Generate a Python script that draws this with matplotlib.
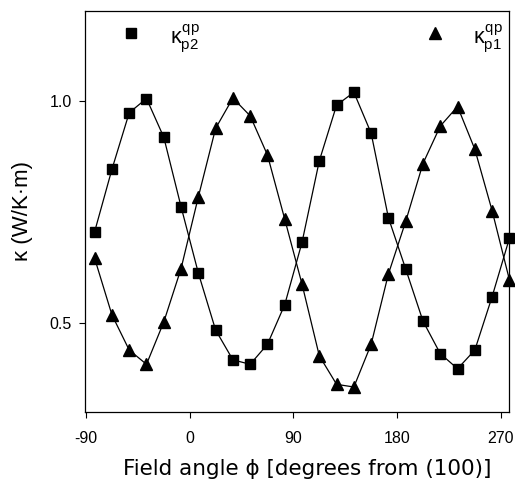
import matplotlib
matplotlib.use("Agg")
import matplotlib.pyplot as plt

plt.rcParams['font.family'] = ['Liberation Sans', 'DejaVu Sans']
plt.rcParams['mathtext.fontset'] = 'custom'
plt.rcParams['mathtext.rm'] = 'Liberation Sans'
plt.rcParams['mathtext.it'] = 'Liberation Sans'

# field angle (degrees from (100))
angle = [-82.5, -67.5, -52.5, -37.5, -22.5, -7.5, 7.5, 22.5, 37.5, 52.5,
         67.5, 82.5, 97.5, 112.5, 127.5, 142.5, 157.5, 172.5, 187.5, 202.5,
         217.5, 232.5, 247.5, 262.5, 277.5]

# kappa_p2 (squares)
kappa_p2 = [0.706, 0.846, 0.973, 1.005, 0.918, 0.762, 0.613, 0.485, 0.418, 0.408,
            0.453, 0.542, 0.682, 0.865, 0.990, 1.019, 0.927, 0.737, 0.622, 0.505,
            0.432, 0.398, 0.440, 0.560, 0.691]

# kappa_p1 (triangles)
kappa_p1 = [0.646, 0.519, 0.440, 0.408, 0.503, 0.623, 0.784, 0.938, 1.006, 0.966,
            0.878, 0.734, 0.588, 0.427, 0.363, 0.357, 0.453, 0.611, 0.729, 0.859,
            0.943, 0.987, 0.891, 0.753, 0.598]

xticks = [-90, 0, 90, 180, 270]
yticks = [0.5, 1.0]

fig = plt.figure(figsize=(5.15, 4.79), dpi=100)
ax = fig.add_axes([0.165, 0.140, 0.823, 0.837])

ax.plot(angle, kappa_p2, color='black', lw=0.9, marker='s', ms=7.5,
        clip_on=False, zorder=3)
ax.plot(angle, kappa_p1, color='black', lw=0.9, marker='^', ms=8.5,
        clip_on=False, zorder=3)

# legend drawn as markers + labels in axes coords
ax.plot([0.108], [0.945], 's', color='black', ms=6.5, transform=ax.transAxes)
ax.text(0.2, 0.931, r'$\kappa^{qp}_{p2}$', transform=ax.transAxes,
        fontsize=15.5, va='center', ha='left')
ax.plot([0.825], [0.945], '^', color='black', ms=8, transform=ax.transAxes)
ax.text(0.915, 0.931, r'$\kappa^{qp}_{p1}$', transform=ax.transAxes,
        fontsize=15.5, va='center', ha='left')

ax.set_xlim(-90.9, 277)
ax.set_ylim(0.301, 1.2015)
ax.set_xticks(xticks)
ax.set_xticklabels([str(t) for t in xticks])
ax.set_yticks(yticks)
ax.set_yticklabels(['0.5', '1.0'])
ax.tick_params(direction='out', length=4.5, width=0.8, labelsize=11.5, pad=5)
ax.tick_params(axis='x', pad=9)

for s in ax.spines.values():
    s.set_linewidth(0.9)

ax.set_xlabel('Field angle \u03d5 [degrees from (100)]', fontsize=15.5,
              family='DejaVu Sans', labelpad=8)
ax.xaxis.set_label_coords(0.524, -0.117)
ax.set_ylabel('\u03ba (W/K\u00b7m)', fontsize=16, labelpad=12)

fig.savefig('out.png', dpi=100)
